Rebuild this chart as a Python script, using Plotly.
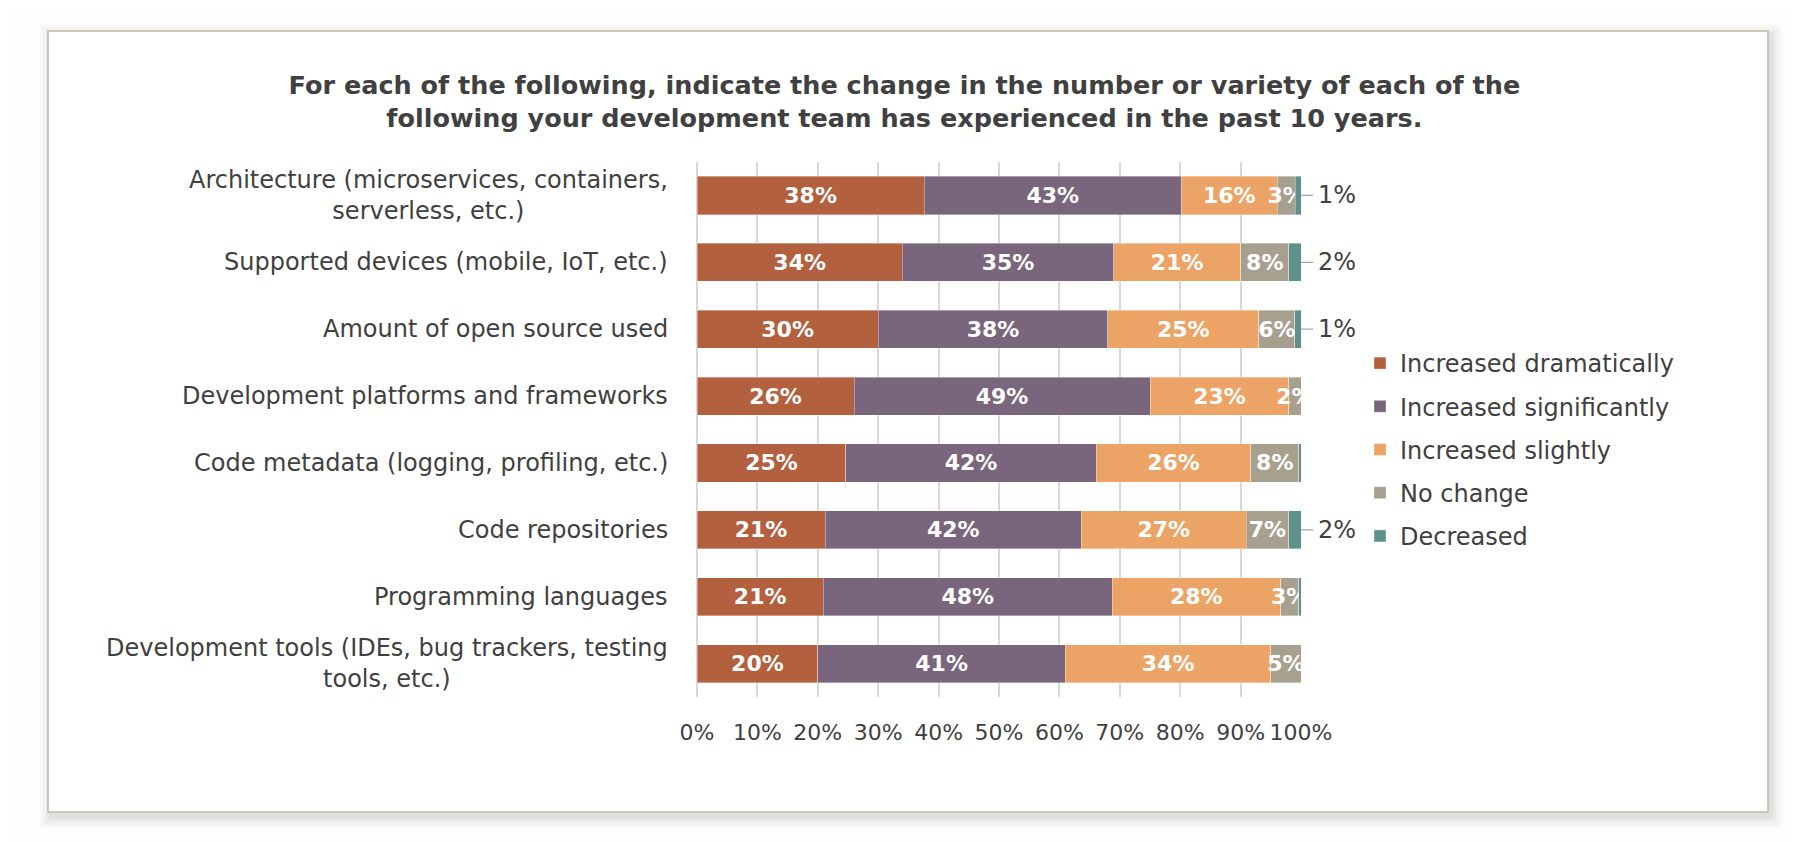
import plotly.graph_objects as go

# Survey data (percent of respondents)
categories = [
    "Architecture (microservices, containers,<br>serverless, etc.)",
    "Supported devices (mobile, IoT, etc.)",
    "Amount of open source used",
    "Development platforms and frameworks",
    "Code metadata (logging, profiling, etc.)",
    "Code repositories",
    "Programming languages",
    "Development tools (IDEs, bug trackers, testing<br>tools, etc.)",
]
increased_dramatically = [38, 34, 30, 26, 25, 21, 21, 20]
increased_significantly = [43, 35, 38, 49, 42, 42, 48, 41]
increased_slightly = [16, 21, 25, 23, 26, 27, 28, 34]
no_change = [3, 8, 6, 2, 8, 7, 3, 5]
decreased = [1, 2, 1, 0, 0.4, 2, 0.4, 0]
x_ticks = list(range(0, 101, 10))

series = [
    ("Increased dramatically", increased_dramatically, "#B2603E"),
    ("Increased significantly", increased_significantly, "#7A667C"),
    ("Increased slightly", increased_slightly, "#EBA465"),
    ("No change", no_change, "#A8A08F"),
    ("Decreased", decreased, "#5D9189"),
]

FONT = "DejaVu Sans, sans-serif"
TEXT_COLOR = "#404040"

W, H = 1800, 842
L, R, T, B = 689, 507, 154, 153  # plot area margins in px


def px_x(px):
    return (px - L) / (W - L - R)


def px_y(py):
    return (H - B - py) / (H - T - B)


fig = go.Figure()
for name, vals, color in series:
    is_last = name == "Decreased"
    fig.add_trace(go.Bar(
        name=name,
        y=categories,
        x=vals,
        orientation="h",
        marker=dict(color=color, line=dict(color="rgba(255,255,255,0.6)", width=0.6)),
        text=None if is_last else [f"{v}%" for v in vals],
        textposition="none" if is_last else "inside",
        insidetextanchor="middle",
        textangle=0,
        constraintext="none",
        textfont=dict(family=FONT, size=22, color="white", weight="bold"),
        legendgroup=name,
        hoverinfo="skip",
    ))

# category labels, centred line by line like the original
for cat in categories:
    fig.add_annotation(
        x=px_x(662), xref="paper", xanchor="right", y=cat, yref="y",
        text=cat, showarrow=False, align="center",
        font=dict(family=FONT, size=24, color=TEXT_COLOR),
    )

# labels for the "Decreased" slices, outside with a short leader line
for cat, v in zip(categories, decreased):
    if v >= 1:
        fig.add_annotation(
            x=100, y=cat, xref="x", yref="y",
            text=f"{v}%", showarrow=True, arrowhead=0, arrowwidth=1.2,
            arrowcolor="#A6A6A6", ax=12, ay=0, xanchor="left", borderpad=4,
            font=dict(family=FONT, size=24, color=TEXT_COLOR),
        )

# frame with soft shadow
fx0, fx1, fy0, fy1 = 40, 1760, 23, 804
shapes = []
for i, op in enumerate([0.02, 0.025, 0.03, 0.04]):
    d = 14 - i * 3
    shapes.append(dict(
        type="rect", xref="paper", yref="paper", layer="below",
        x0=px_x(fx0 - d + 6), x1=px_x(fx1 + d), y0=px_y(fy1 + d + 2), y1=px_y(fy0 - d + 7),
        fillcolor=f"rgba(0,0,0,{op})", line=dict(width=0),
    ))
shapes.append(dict(
    type="rect", xref="paper", yref="paper", layer="below",
    x0=px_x(fx0), x1=px_x(fx1), y0=px_y(fy1), y1=px_y(fy0),
    fillcolor="white", line=dict(color="#BEBAA8", width=1.5),
))

fig.update_layout(
    width=W, height=H,
    barmode="stack",
    barnorm="percent",
    bargap=0.43,
    paper_bgcolor="#FDFDFD",
    plot_bgcolor="rgba(0,0,0,0)",
    margin=dict(l=L, r=R, t=T, b=B),
    font=dict(family=FONT, size=24, color=TEXT_COLOR),
    title=dict(
        text="For each of the following, indicate the change in the number or variety of each of the<br>"
             "following your development team has experienced in the past 10 years.",
        x=0.498, xanchor="center", y=1 - 86 / H, yanchor="middle",
        font=dict(family=FONT, size=25.5, color=TEXT_COLOR, weight="bold"),
    ),
    xaxis=dict(
        range=[0, 100], tickvals=x_ticks, ticktext=[f"{t}%" for t in x_ticks],
        tickangle=0, tickfont=dict(size=22),
        showgrid=True, gridcolor="#D9D9D9", gridwidth=1.5,
        zeroline=True, zerolinecolor="#D9D9D9", zerolinewidth=1.5,
        showline=False, ticklabelstandoff=20, fixedrange=True,
    ),
    yaxis=dict(
        autorange="reversed", showgrid=False, zeroline=False, showline=False,
        showticklabels=False, fixedrange=True,
    ),
    legend=dict(
        x=px_x(1352), xanchor="left", y=px_y(333), yanchor="top",
        traceorder="grouped", tracegroupgap=9,
        font=dict(family=FONT, size=24, color=TEXT_COLOR),
        bgcolor="rgba(0,0,0,0)",
    ),
    shapes=shapes,
    showlegend=True,
)

fig.write_html("out.html")
